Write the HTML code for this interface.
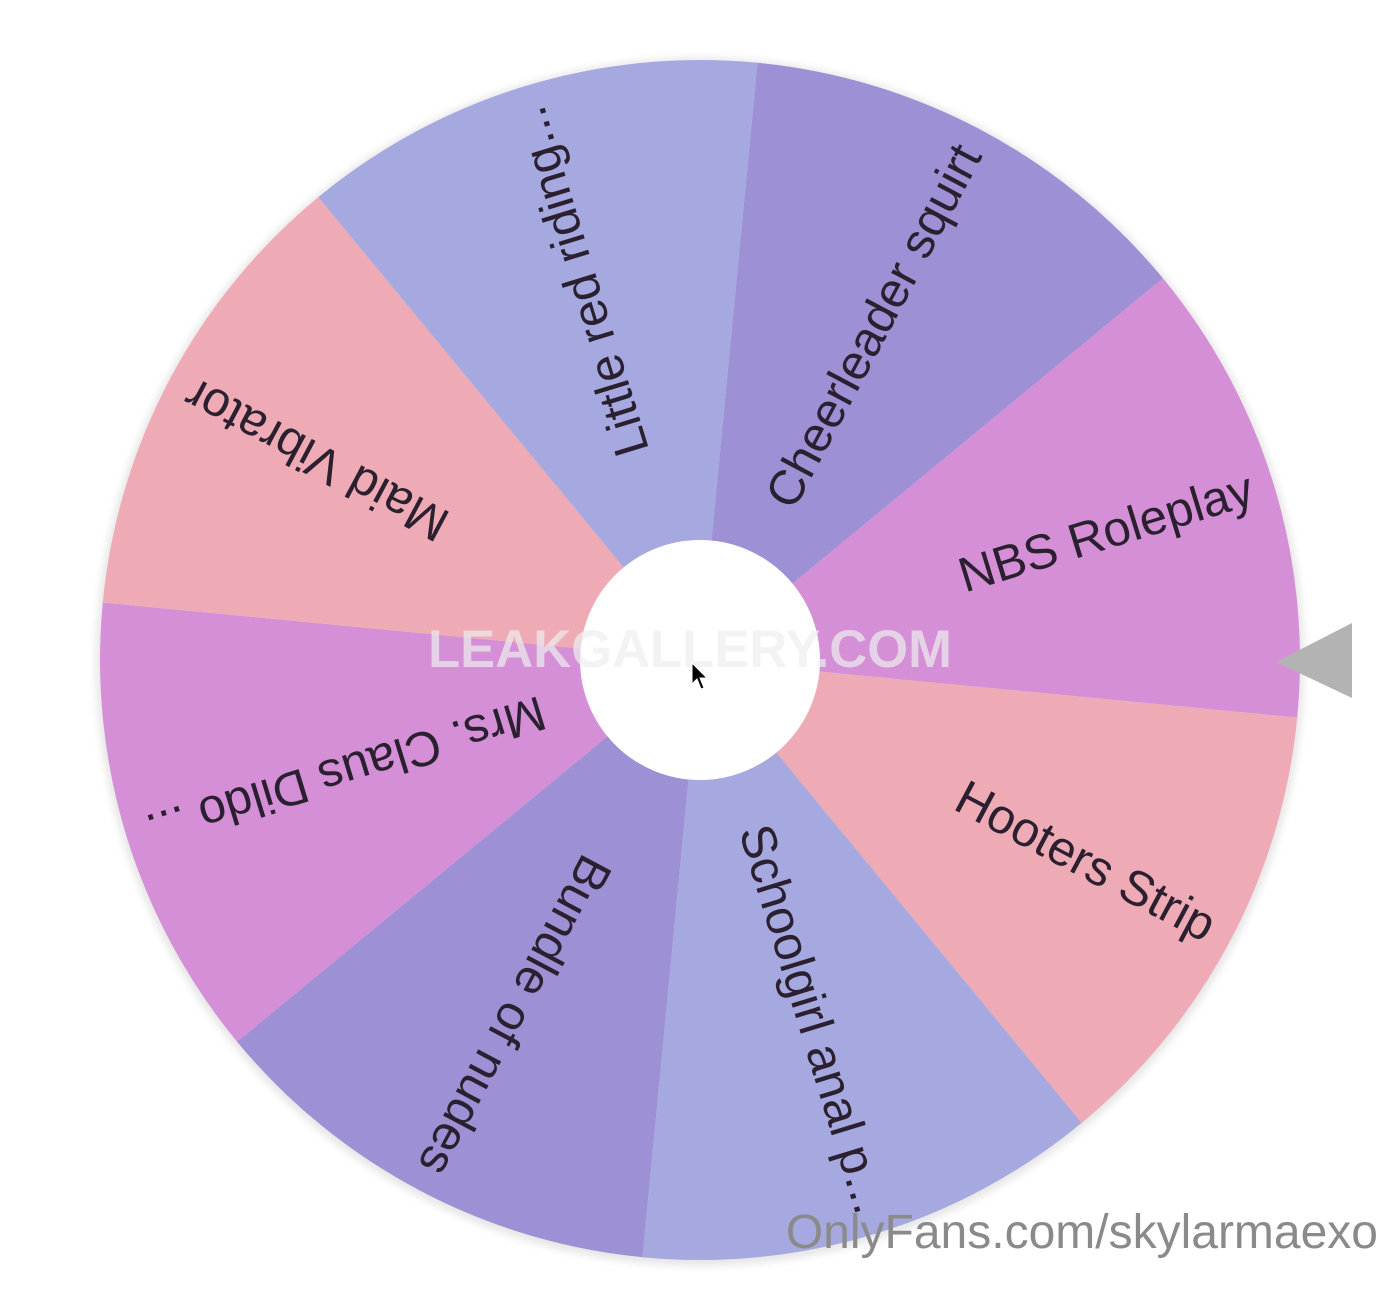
<!DOCTYPE html>
<html><head><meta charset="utf-8"><style>
html,body{margin:0;padding:0;background:#fff;}
svg{display:block;}
text{font-family:"Liberation Sans",sans-serif;}
</style></head><body>
<svg width="1390" height="1300" viewBox="0 0 1390 1300" xmlns="http://www.w3.org/2000/svg">
<defs>
<filter id="sh" x="-10%" y="-10%" width="120%" height="120%"><feGaussianBlur stdDeviation="4"/></filter>
</defs>
<rect width="1390" height="1300" fill="#fff"/>
<circle cx="700" cy="662" r="604" fill="#e6e6e6" filter="url(#sh)"/>
<g transform="translate(700,660)">
<path d="M0 0 L597.2 57.5 A600 600 0 0 1 381.7 462.9Z" fill="#efabb5"/>
<path d="M0 0 L381.7 462.9 A600 600 0 0 1 -57.5 597.2Z" fill="#a6a8e0"/>
<path d="M0 0 L-57.5 597.2 A600 600 0 0 1 -462.9 381.7Z" fill="#9e90d4"/>
<path d="M0 0 L-462.9 381.7 A600 600 0 0 1 -597.2 -57.5Z" fill="#d48fd6"/>
<path d="M0 0 L-597.2 -57.5 A600 600 0 0 1 -381.7 -462.9Z" fill="#efabb5"/>
<path d="M0 0 L-381.7 -462.9 A600 600 0 0 1 57.5 -597.2Z" fill="#a6a8e0"/>
<path d="M0 0 L57.5 -597.2 A600 600 0 0 1 462.9 -381.7Z" fill="#9e90d4"/>
<path d="M0 0 L462.9 -381.7 A600 600 0 0 1 597.2 57.5Z" fill="#d48fd6"/>
<g font-size="49" fill="#2a2030" text-anchor="end" dominant-baseline="middle">
<text transform="rotate(-17)" x="578">NBS Roleplay</text>
<text transform="rotate(28)" x="578">Hooters Strip</text>
<text transform="rotate(73)" x="578">Schoolgirl anal p...</text>
<text transform="rotate(118)" x="578">Bundle of nudes</text>
<text transform="rotate(163)" x="578">Mrs. Claus Dildo ...</text>
<text transform="rotate(208)" x="578">Maid Vibrator</text>
<text transform="rotate(253)" x="578">Little red riding...</text>
<text transform="rotate(298)" x="578">Cheerleader squirt</text>
</g>
<circle r="120" fill="#fff"/>
</g>
<text x="690" y="667" text-anchor="middle" font-size="53" font-weight="bold" fill="#eeeeee" fill-opacity="0.7" textLength="524" lengthAdjust="spacingAndGlyphs">LEAKGALLERY.COM</text>
<path d="M1276 662 L1352 623 L1352 698 Z" fill="#b3b3b3"/>
<path d="M692 663 L692 684 L697 679 L701 689 L704 688 L700 678 L707 678 Z" fill="#000" stroke="#fff" stroke-width="1"/>
<text x="1378" y="1248" text-anchor="end" font-size="48" fill="#8a8a8a">OnlyFans.com/skylarmaexo</text>
</svg>
</body></html>
